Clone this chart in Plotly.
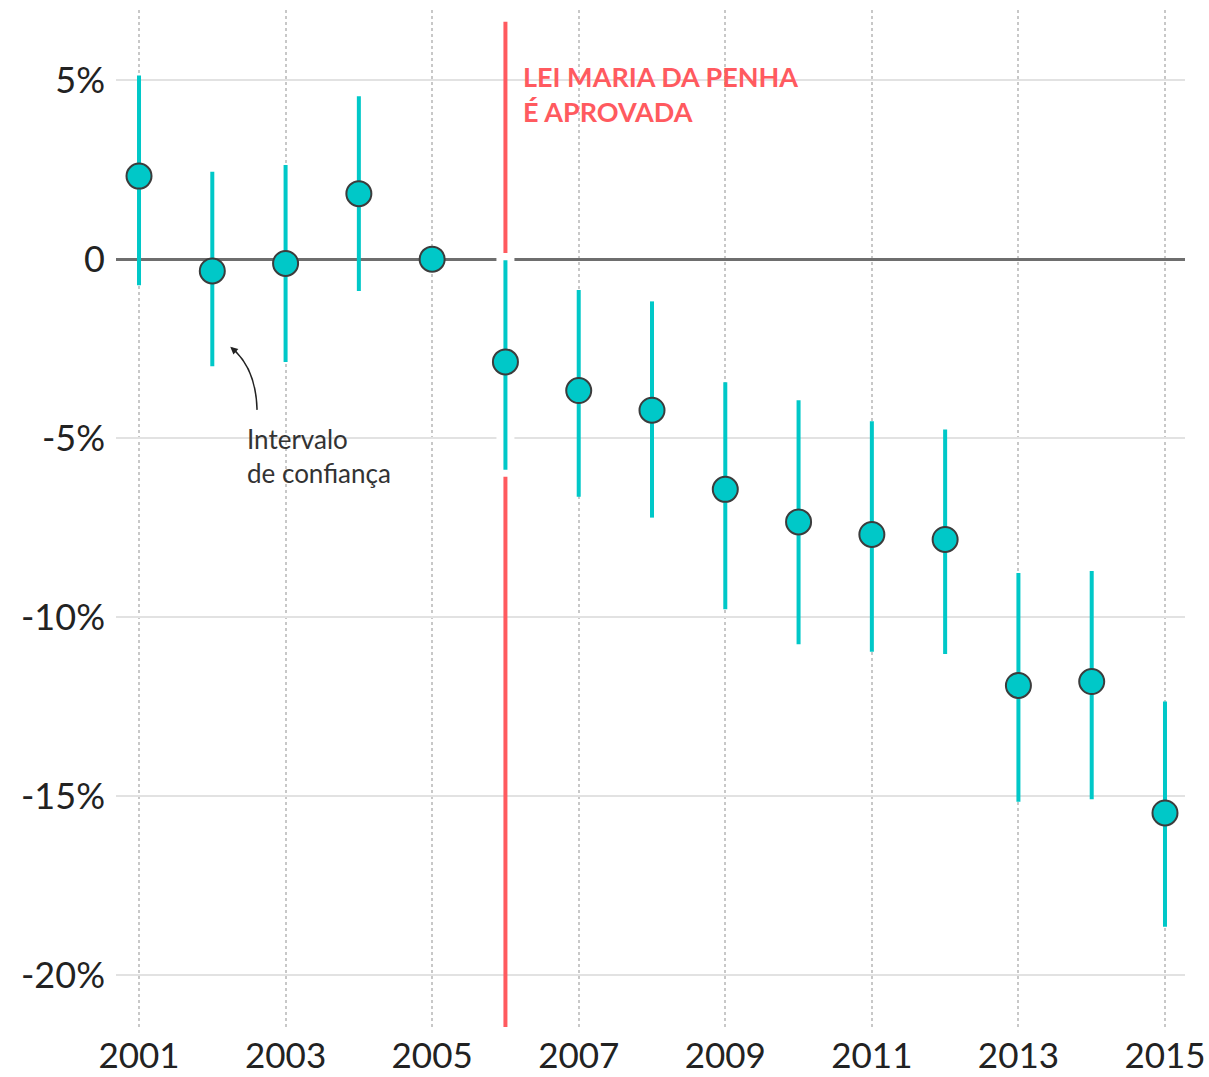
import plotly.graph_objects as go

# Annual effect estimates (%) with 95% confidence bounds
years = list(range(2001, 2016))
estimate = [2.32, -0.33, -0.12, 1.83, 0.0, -2.87, -3.67, -4.22, -6.43,
            -7.34, -7.69, -7.83, -11.91, -11.80, -15.47]
ci_upper = [5.13, 2.44, 2.63, 4.55, 0.0, -0.03, -0.86, -1.18, -3.44,
            -3.94, -4.53, -4.76, -8.77, -8.71, -12.36]
ci_lower = [-0.73, -2.99, -2.87, -0.89, 0.0, -5.88, -6.64, -7.22, -9.78,
            -10.76, -10.97, -11.03, -15.16, -15.09, -18.65]

x_ticks = [2001, 2003, 2005, 2007, 2009, 2011, 2013, 2015]
y_ticks = [5, 0, -5, -10, -15, -20]
y_tick_text = ["5%", "0", "-5%", "-10%", "-15%", "-20%"]

law_year = 2006
law_label = "LEI MARIA DA PENHA<br>É APROVADA"
ci_label = "Intervalo<br>de confiança"

CYAN = "#00C8C8"
RED = "#FF5A5F"
FONT = "Lato"

Y_RANGE = [-21.45, 6.96]
X_RANGE = [2000.686, 2015.273]

err_plus = [u - e for u, e in zip(ci_upper, estimate)]
err_minus = [e - l for e, l in zip(estimate, ci_lower)]

fig = go.Figure()

# white halo separating the law-year interval from the red marker line
i_law = years.index(law_year)
fig.add_trace(go.Scatter(
    x=[law_year, law_year],
    y=[ci_upper[i_law] + 0.2, ci_lower[i_law] - 0.2],
    mode="lines",
    line=dict(color="white", width=18),
    hoverinfo="skip",
    showlegend=False,
))

# point estimates with confidence-interval whiskers
fig.add_trace(go.Scatter(
    x=years,
    y=estimate,
    mode="markers",
    marker=dict(size=25, color=CYAN, line=dict(color="#3c3c3c", width=2)),
    error_y=dict(type="data", symmetric=False, array=err_plus,
                 arrayminus=err_minus, color=CYAN, thickness=4, width=0),
    showlegend=False,
))

# vertical marker for the year the law passed
fig.add_shape(type="line", xref="x", yref="y",
              x0=law_year, x1=law_year, y0=Y_RANGE[0], y1=6.63,
              line=dict(color=RED, width=4), layer="between")

# curved pointer to the confidence interval
fig.add_shape(type="path", xref="x", yref="y",
              path="M 2002.611 -4.21 Q 2002.597 -3.15 2002.324 -2.59",
              line=dict(color="#222222", width=1.5), layer="above")
fig.add_annotation(x=2002.245, y=-2.45, xref="x", yref="y",
                   ax=8, ay=7, text="", showarrow=True,
                   arrowhead=2, arrowsize=1, arrowwidth=1.5,
                   arrowcolor="#222222")

fig.add_annotation(x=law_year, y=5.62, xref="x", yref="y",
                   xanchor="left", yanchor="top", xshift=16,
                   text=law_label, showarrow=False, align="left",
                   font=dict(family=FONT, size=27, color=RED,
                             weight="bold"))

fig.add_annotation(x=2002.44, y=-4.52, xref="x", yref="y",
                   xanchor="left", yanchor="top",
                   text=ci_label, showarrow=False, align="left",
                   font=dict(family=FONT, size=26, color="#333333"))

fig.update_layout(
    width=1209, height=1077,
    margin=dict(l=116, r=24, t=10, b=50),
    plot_bgcolor="white", paper_bgcolor="white",
    font=dict(family=FONT, color="#222222"),
    showlegend=False,
)
fig.update_xaxes(
    range=X_RANGE, tickvals=x_ticks, ticktext=[str(v) for v in x_ticks],
    showgrid=True, gridcolor="#c8c8c8", gridwidth=1.5, griddash="dot",
    zeroline=False, showline=False, ticks="", automargin=False,
    tickfont=dict(family=FONT, size=35, color="#222222"),
    ticklabelstandoff=5,
)
fig.update_yaxes(
    range=Y_RANGE, tickvals=y_ticks, ticktext=y_tick_text,
    showgrid=True, gridcolor="#e2e2e2", gridwidth=2,
    zeroline=True, zerolinecolor="#6e6e6e", zerolinewidth=3,
    showline=False, ticks="", automargin=False,
    tickfont=dict(family=FONT, size=36, color="#222222"),
    ticklabelstandoff=10,
)

fig.write_html("out.html")
